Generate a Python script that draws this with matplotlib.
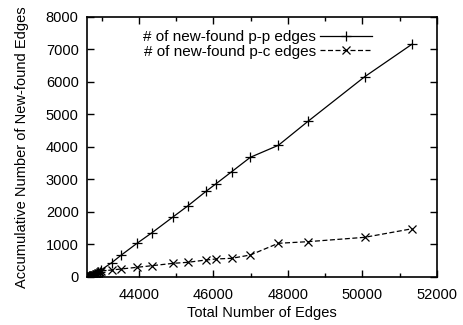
import matplotlib
matplotlib.use("Agg")
import matplotlib.pyplot as plt
from matplotlib.ticker import MultipleLocator

plt.rcParams['font.family'] = ['Liberation Sans', 'DejaVu Sans']

# Total number of edges (x) and accumulated new-found edges
total_edges = [42610, 42630, 42650, 42670, 42690, 42710, 42730, 42760, 42790,
               42820, 42850, 42880, 42910, 42940, 42980, 43267, 43517, 43947,
               44349, 44921, 45308, 45800, 46060, 46489, 46989, 47741, 48538,
               50060, 51338]
pp_edges = [0, 5, 10, 18, 25, 35, 45, 55, 70, 85, 100, 120, 140, 165, 215,
            440, 668, 1037, 1363, 1855, 2185, 2637, 2862, 3240, 3683, 4052,
            4791, 6163, 7170]
pc_edges = [0, 5, 10, 15, 22, 30, 40, 50, 60, 75, 90, 105, 125, 150, 185,
            215, 246, 298, 348, 421, 452, 523, 554, 575, 677, 1037, 1087,
            1221, 1486]

fig = plt.figure(figsize=(4.64, 3.25), dpi=100)
ax = fig.add_axes([0.1875, 0.1477, 0.7543, 0.8])

ax.plot(total_edges, pp_edges, color='black', lw=0.9, marker='+', ms=7.5,
        mew=0.9, label='# of new-found p-p edges')
ax.plot(total_edges, pc_edges, color='black', lw=0.9, ls=(0, (4, 2)),
        marker='x', ms=5.5, mew=0.9, label='# of new-found p-c edges')

ax.set_xlim(42604, 52000)
ax.set_ylim(0, 8000)
ax.xaxis.set_major_locator(MultipleLocator(2000))
ax.xaxis.set_minor_locator(MultipleLocator(1000))
ax.yaxis.set_major_locator(MultipleLocator(1000))
ax.tick_params(which='both', direction='in', top=True, right=True,
               labelsize=10.5, width=1)
ax.tick_params(axis='x', which='major', length=5, pad=8)
ax.tick_params(axis='y', which='major', length=5, pad=6)
ax.tick_params(which='minor', length=3)
for sp in ax.spines.values():
    sp.set_linewidth(1.2)

ax.set_xlabel('Total Number of Edges', fontsize=10.5, labelpad=3)
ax.set_ylabel('Accumulative Number of New-found Edges', fontsize=10.5,
              labelpad=12)

ax.legend(loc='upper right', bbox_to_anchor=(0.852, 1.0), frameon=False,
          fontsize=11, markerfirst=False, handlelength=3.4,
          labelspacing=0.05, handletextpad=0.3, borderaxespad=0.45)

fig.savefig('out.png', dpi=100)
